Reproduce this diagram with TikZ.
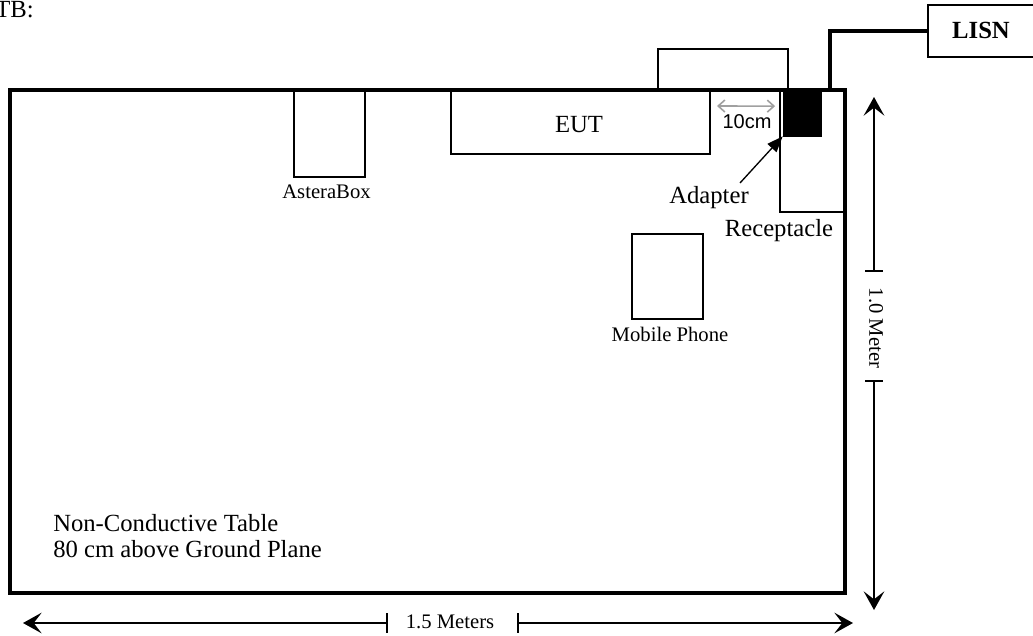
\documentclass[tikz,border=0pt]{standalone}
\usepackage{fontspec}
\setmainfont{Liberation Serif}
\newfontfamily\arialfont{Liberation Sans}
\usetikzlibrary{arrows.meta,fit,calc}
\begin{document}
\begin{tikzpicture}[x=0.75pt,y=-0.75pt,
  box/.style={draw,line width=1.5pt,fill=white,inner sep=0pt},
  thick box/.style={draw,line width=2.6pt,inner sep=0pt},
  big/.style={inner sep=0pt,anchor=base,font=\fontsize{18.5}{22}\selectfont},
  small/.style={inner sep=0pt,anchor=base,font=\fontsize{15.5}{18}\selectfont},
  dim/.style={line width=1.2pt,-{Stealth[length=14pt,width=15.5pt,inset=6pt]}},
  tickmark/.style={line width=1.2pt},
  cable/.style={line width=3pt}]
\useasboundingbox (0,0) rectangle (1033,636);

% header text (clipped at the left, as in the reference)
\node[big,anchor=base east] (hdr) at (34,17) {TB:};

% objects on the table
\node[box,fit={(658,49) (788,90)}] (back) {};
\node[box,fit={(451,90) (710,154)}] (eut) {};
\node[big] at (579,132) {EUT};
\node[box,fit={(294,90) (365,177)}] (astera) {};
\node[small] (asteralbl) at (326.5,198) {AsteraBox};
\node[box,fit={(632,234) (703,319)}] (phone) {};
\node[small] (phonelbl) at (670,341) {Mobile Phone};
\node[box,line width=1.3pt,fit={(780,90) (845,212)}] (recept) {};
\node[draw,fill=black,inner sep=0pt,fit={(783,90) (821,136)}] (adapter) {};

% table
\node[thick box,fit={(10,90) (845,593)}] (table) {};

% LISN and cable
\node[box,fit={(928,5) (1045,57)}] (lisn) {};
\node[inner sep=0pt,anchor=base,font=\bfseries\fontsize{18.5}{22}\selectfont] at (981,38) {LISN};
\coordinate (plug) at (830,90);
\draw[cable] (plug) |- (lisn.west);

% 10 cm spacing
\draw[line width=1.2pt,color={rgb,255:red,160;green,160;blue,160},
  {Straight Barb[length=5pt,width=9pt]}-{Straight Barb[length=5pt,width=9pt]}]
  ($(eut.north east)+(6,17)$) -- ($(recept.north west)+(-4,17)$);
\node[inner sep=0pt,anchor=base,font=\arialfont\fontsize{15}{18}\selectfont] at (747,128) {10cm};

% adapter pointer
\coordinate (adtail) at (740,183);
\draw[line width=1pt,-{Triangle[length=12pt,width=9pt]}] (adtail) -- (adapter.south west);
\node[big] (adlbl) at (709,203) {Adapter};
\node[big] (reclbl) at (779,236) {Receptacle};

% table text
\node[big,anchor=base west] (t1) at (53,531) {Non-Conductive Table};
\node[big,anchor=base west] (t2) at (53,557) {80 cm above Ground Plane};

% vertical dimension
\coordinate (vtop) at (874,97);
\coordinate (vbot) at (874,610);
\coordinate (vt1) at (874,271);
\coordinate (vt2) at (874,381);
\draw[dim] (vt1) -- (vtop);
\draw[dim] (vt2) -- (vbot);
\draw[tickmark] ($(vt1)+(-9,0)$) -- ($(vt1)+(9,0)$);
\draw[tickmark] ($(vt2)+(-9,0)$) -- ($(vt2)+(9,0)$);
\node[inner sep=0pt,font=\fontsize{15.5}{18}\selectfont,rotate=-90] (vlbl) at (876,328) {1.0 Meter};

% horizontal dimension
\coordinate (hl) at (23,623);
\coordinate (hr) at (853,623);
\coordinate (ht1) at (387,623);
\coordinate (ht2) at (518,623);
\draw[dim] (ht1) -- (hl);
\draw[dim] (ht2) -- (hr);
\draw[tickmark] ($(ht1)+(0,-10)$) -- ($(ht1)+(0,10)$);
\draw[tickmark] ($(ht2)+(0,-10)$) -- ($(ht2)+(0,10)$);
\node[small] (hlbl) at (450,628) {1.5 Meters};
\end{tikzpicture}
\end{document}
